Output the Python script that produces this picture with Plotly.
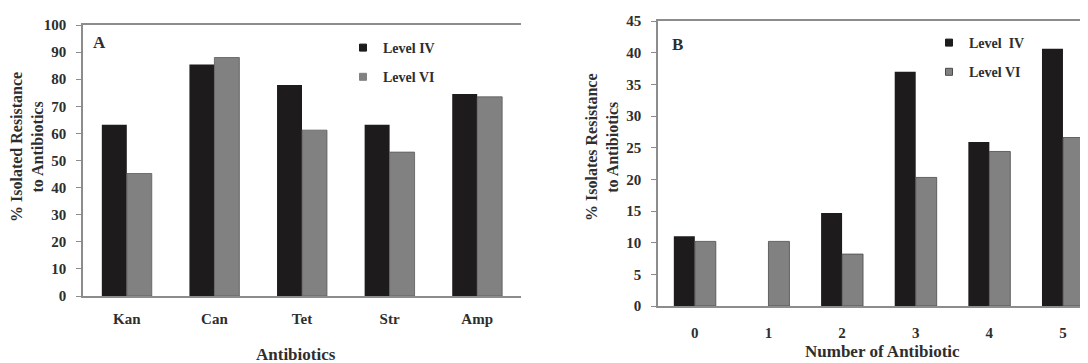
import plotly.graph_objects as go

# ---- data ----
antibiotics = ["Kan", "Can", "Tet", "Str", "Amp"]
a_level_iv = [63.2, 85.4, 77.9, 63.2, 74.5]
a_level_vi = [45.2, 88.0, 61.2, 53.1, 73.5]

num_antibiotic = ["0", "1", "2", "3", "4", "5"]
b_level_iv = [11.0, 0.0, 14.7, 37.0, 25.9, 40.6]
b_level_vi = [10.2, 10.2, 8.2, 20.3, 24.4, 26.6]

a_legend_names = ["Level IV", "Level VI"]
b_legend_names = ["Level  IV", "Level VI"]

BLACK = "#1e1b1c"
GRAY = "#818182"
AXIS = "#8c8c8c"
TXT = "#2e2e2e"
FONT = "Liberation Serif"

# page body has an 8px margin, so the figure sits at (8, 8)
OFF = 8
W, H = 1088 - OFF, 363 - OFF

def fx(px):
    return (px - OFF) / W

def fy(py):
    return 1 - (py - OFF) / H

fig = go.Figure()

fig.add_trace(go.Bar(x=antibiotics, y=a_level_iv, name=a_legend_names[0],
                     marker=dict(color=BLACK, line=dict(width=0)), showlegend=False,
                     xaxis="x", yaxis="y"))
fig.add_trace(go.Bar(x=antibiotics, y=a_level_vi, name=a_legend_names[1],
                     marker=dict(color=GRAY, line=dict(color="#5a5a5a", width=0.8)),
                     showlegend=False, xaxis="x", yaxis="y"))
fig.add_trace(go.Bar(x=num_antibiotic, y=b_level_iv, name=b_legend_names[0],
                     marker=dict(color=BLACK, line=dict(width=0)), showlegend=False,
                     xaxis="x2", yaxis="y2"))
fig.add_trace(go.Bar(x=num_antibiotic, y=b_level_vi, name=b_legend_names[1],
                     marker=dict(color=GRAY, line=dict(color="#4a4a4a", width=0.8)),
                     showlegend=False, xaxis="x2", yaxis="y2"))

# legend entries (small square keys like the original)
legend_keys = [
    (a_legend_names[0], BLACK, BLACK, "legend", "x", "y", "a1"),
    (a_legend_names[1], GRAY, GRAY, "legend", "x", "y", "a2"),
    (b_legend_names[0], BLACK, BLACK, "legend2", "x2", "y2", "b1"),
    (b_legend_names[1], GRAY, "#4a4a4a", "legend2", "x2", "y2", "b2"),
]
for name, col, lcol, leg, xa, ya, grp in legend_keys:
    fig.add_trace(go.Scatter(x=[None], y=[None], mode="markers", name=name,
                             marker=dict(symbol="square", size=7, color=col,
                                         line=dict(color=lcol, width=1)),
                             xaxis=xa, yaxis=ya, legend=leg, legendgroup=grp,
                             hoverinfo="skip"))

tickfont = dict(family=FONT, size=15, color=TXT, weight="bold")

common_x = dict(showline=True, linecolor=AXIS, linewidth=1.5, mirror=True,
                ticks="", showgrid=False, zeroline=False, tickfont=tickfont,
                type="category", fixedrange=True, automargin=False)
common_y = dict(showline=True, linecolor=AXIS, linewidth=1.5,
                ticks="outside", ticklen=5, tickcolor=AXIS, tickwidth=1,
                showgrid=False, zeroline=False, tickfont=tickfont, fixedrange=True,
                automargin=False)

legend_font = dict(family=FONT, size=14, color=TXT, weight="bold")

fig.update_layout(
    template="none",
    width=W, height=H,
    margin=dict(l=0, r=0, t=0, b=0, autoexpand=False),
    paper_bgcolor="white", plot_bgcolor="white",
    barmode="group", bargap=0.43, bargroupgap=0,
    font=dict(family=FONT, color=TXT),
    xaxis=dict(domain=[fx(83), fx(521)], anchor="y", range=[-0.5, 4.5],
               ticklabelstandoff=8, **common_x),
    yaxis=dict(domain=[fy(296), fy(25)], anchor="x", range=[0, 100], dtick=10,
               ticklabelstandoff=7, **common_y),
    xaxis2=dict(domain=[fx(658), 1.0], anchor="y2", range=[-0.5, 5.34],
                ticklabelstandoff=12, **common_x),
    yaxis2=dict(domain=[fy(306), fy(21)], anchor="x2", range=[0, 45], dtick=5,
                ticklabelstandoff=7, **common_y),
    legend=dict(x=fx(343), y=fy(32), xanchor="left", yanchor="top",
                bgcolor="rgba(0,0,0,0)", itemwidth=30, tracegroupgap=8,
                traceorder="grouped", font=legend_font),
    legend2=dict(x=fx(929), y=fy(27), xanchor="left", yanchor="top",
                 bgcolor="rgba(0,0,0,0)", itemwidth=30, tracegroupgap=8,
                 traceorder="grouped", font=legend_font),
    showlegend=True,
)

def ann(text, px, py, size=15, angle=0):
    return dict(text=text, x=fx(px), y=fy(py), xref="paper", yref="paper",
                xanchor="center", yanchor="middle", showarrow=False, textangle=angle,
                font=dict(family=FONT, size=size, color=TXT, weight="bold"))

annotations = [
    ann("A", 99, 43, size=17),
    ann("B", 677, 45, size=17),
    ann("% Isolated Resistance<br>to Antibiotics", 27, 147, size=16, angle=-90),
    ann("% Isolates Resistance<br>to Antibiotics", 602, 147, size=16, angle=-90),
    ann("Antibiotics", 296, 354, size=17),
    ann("Number of Antibiotic", 882, 351, size=17),
]
fig.update_layout(annotations=annotations)

fig.write_html("out.html")
